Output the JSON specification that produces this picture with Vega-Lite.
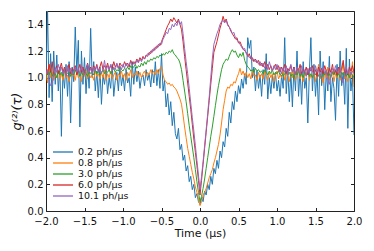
{
"$schema":"https://vega.github.io/schema/vega-lite/v6.json",
"width":308,"height":200,"autosize":"none",
"padding":{"left":46,"top":11,"right":20,"bottom":40},
"config":{"view":{"stroke":"#222","strokeWidth":1},"font":"DejaVu Sans",
 "axis":{"grid":false,"domain":false,"labelFlush":false,"tickColor":"#222","tickWidth":1,"tickSize":-3.5,"labelFont":"DejaVu Sans","labelFontSize":10,"labelColor":"#111","titleFont":"DejaVu Sans","titleFontSize":11,"titleFontWeight":"normal","titleColor":"#111"}},
"layer":[
{"data":{"values":[
{"t":-2.00,"a":0.98,"b":1.06,"c":1.00,"d":1.08,"e":1.03},
{"t":-1.98,"a":1.52,"b":0.96,"c":1.05,"d":1.02,"e":1.06},
{"t":-1.96,"a":0.85,"b":1.10,"c":1.02,"d":1.10,"e":0.98},
{"t":-1.94,"a":1.18,"b":1.00,"c":1.06,"d":1.04,"e":0.94},
{"t":-1.92,"a":0.82,"b":1.04,"c":1.01,"d":1.12,"e":0.96},
{"t":-1.90,"a":1.20,"b":0.98,"c":1.04,"d":1.01,"e":1.02},
{"t":-1.88,"a":0.95,"b":1.02,"c":1.03,"d":1.06,"e":1.07},
{"t":-1.86,"a":1.17,"b":1.00,"c":1.00,"d":1.09,"e":1.04},
{"t":-1.84,"a":0.90,"b":1.06,"c":1.05,"d":1.03,"e":1.10},
{"t":-1.82,"a":1.08,"b":0.99,"c":1.02,"d":1.07,"e":1.05},
{"t":-1.80,"a":0.56,"b":1.03,"c":1.04,"d":1.11,"e":1.08},
{"t":-1.78,"a":1.05,"b":0.98,"c":1.01,"d":1.04,"e":1.03},
{"t":-1.76,"a":0.92,"b":1.05,"c":1.06,"d":1.08,"e":1.06},
{"t":-1.74,"a":1.10,"b":1.00,"c":1.02,"d":1.02,"e":1.01},
{"t":-1.72,"a":0.86,"b":1.02,"c":1.03,"d":1.06,"e":1.09},
{"t":-1.70,"a":1.12,"b":0.97,"c":1.05,"d":1.10,"e":1.04},
{"t":-1.68,"a":0.66,"b":1.04,"c":1.01,"d":1.03,"e":1.07},
{"t":-1.66,"a":1.08,"b":1.01,"c":1.04,"d":1.07,"e":1.02},
{"t":-1.64,"a":0.97,"b":1.03,"c":1.02,"d":1.05,"e":1.05},
{"t":-1.62,"a":1.38,"b":0.98,"c":1.06,"d":1.09,"e":1.08},
{"t":-1.60,"a":1.04,"b":1.05,"c":1.03,"d":1.02,"e":1.04},
{"t":-1.58,"a":1.28,"b":1.00,"c":1.05,"d":1.06,"e":1.07},
{"t":-1.56,"a":0.63,"b":1.02,"c":1.01,"d":1.10,"e":1.03},
{"t":-1.54,"a":1.20,"b":0.97,"c":1.04,"d":1.04,"e":1.09},
{"t":-1.52,"a":0.95,"b":1.04,"c":1.02,"d":1.08,"e":1.05},
{"t":-1.50,"a":1.15,"b":1.01,"c":1.06,"d":1.03,"e":1.02},
{"t":-1.48,"a":0.88,"b":1.06,"c":1.03,"d":1.07,"e":1.06},
{"t":-1.46,"a":1.10,"b":0.99,"c":1.01,"d":1.11,"e":1.10},
{"t":-1.44,"a":0.92,"b":1.03,"c":1.05,"d":1.05,"e":1.04},
{"t":-1.42,"a":1.37,"b":1.00,"c":1.03,"d":1.08,"e":1.07},
{"t":-1.40,"a":1.00,"b":1.02,"c":1.04,"d":1.04,"e":1.03},
{"t":-1.38,"a":1.12,"b":0.98,"c":1.02,"d":1.09,"e":1.08},
{"t":-1.36,"a":0.90,"b":1.05,"c":1.06,"d":1.06,"e":1.05},
{"t":-1.34,"a":1.05,"b":1.01,"c":1.03,"d":1.10,"e":1.09},
{"t":-1.32,"a":0.85,"b":1.03,"c":1.05,"d":1.05,"e":1.04},
{"t":-1.30,"a":1.08,"b":0.99,"c":1.02,"d":1.08,"e":1.07},
{"t":-1.28,"a":0.80,"b":1.04,"c":1.04,"d":1.12,"e":1.03},
{"t":-1.26,"a":1.02,"b":1.00,"c":1.06,"d":1.06,"e":1.06},
{"t":-1.24,"a":0.95,"b":1.06,"c":1.03,"d":1.09,"e":1.13},
{"t":-1.22,"a":1.06,"b":0.98,"c":1.05,"d":1.07,"e":1.05},
{"t":-1.20,"a":0.88,"b":1.03,"c":1.04,"d":1.11,"e":1.09},
{"t":-1.18,"a":1.00,"b":1.00,"c":1.06,"d":1.06,"e":1.06},
{"t":-1.16,"a":0.92,"b":1.05,"c":1.03,"d":1.09,"e":1.10},
{"t":-1.14,"a":1.10,"b":0.99,"c":1.05,"d":1.07,"e":1.05},
{"t":-1.12,"a":0.86,"b":1.02,"c":1.07,"d":1.12,"e":1.08},
{"t":-1.10,"a":0.98,"b":1.04,"c":1.04,"d":1.08,"e":1.06},
{"t":-1.08,"a":1.04,"b":0.98,"c":1.06,"d":1.10,"e":1.11},
{"t":-1.06,"a":0.90,"b":1.03,"c":1.05,"d":1.07,"e":1.07},
{"t":-1.04,"a":1.08,"b":1.01,"c":1.08,"d":1.11,"e":1.09},
{"t":-1.02,"a":0.94,"b":1.05,"c":1.06,"d":1.09,"e":1.06},
{"t":-1.00,"a":1.02,"b":1.00,"c":1.05,"d":1.08,"e":1.10},
{"t":-0.98,"a":0.90,"b":1.03,"c":1.07,"d":1.12,"e":1.07},
{"t":-0.96,"a":1.06,"b":0.98,"c":1.06,"d":1.09,"e":1.11},
{"t":-0.94,"a":0.96,"b":1.04,"c":1.08,"d":1.11,"e":1.08},
{"t":-0.92,"a":1.00,"b":1.01,"c":1.06,"d":1.08,"e":1.10},
{"t":-0.90,"a":0.86,"b":1.06,"c":1.09,"d":1.13,"e":1.12},
{"t":-0.88,"a":1.12,"b":1.00,"c":1.07,"d":1.10,"e":1.09},
{"t":-0.86,"a":0.95,"b":1.03,"c":1.08,"d":1.12,"e":1.11},
{"t":-0.84,"a":1.08,"b":1.02,"c":1.10,"d":1.11,"e":1.10},
{"t":-0.82,"a":0.97,"b":1.05,"c":1.07,"d":1.14,"e":1.13},
{"t":-0.80,"a":1.05,"b":1.01,"c":1.09,"d":1.12,"e":1.11},
{"t":-0.78,"a":0.92,"b":1.04,"c":1.08,"d":1.15,"e":1.14},
{"t":-0.76,"a":1.00,"b":1.00,"c":1.11,"d":1.13,"e":1.12},
{"t":-0.74,"a":1.02,"b":1.03,"c":1.09,"d":1.16,"e":1.15},
{"t":-0.72,"a":0.94,"b":1.05,"c":1.12,"d":1.14,"e":1.14},
{"t":-0.70,"a":1.06,"b":1.01,"c":1.10,"d":1.17,"e":1.16},
{"t":-0.68,"a":0.98,"b":1.04,"c":1.13,"d":1.16,"e":1.18},
{"t":-0.66,"a":1.03,"b":1.02,"c":1.12,"d":1.19,"e":1.17},
{"t":-0.64,"a":0.93,"b":1.06,"c":1.14,"d":1.18,"e":1.20},
{"t":-0.62,"a":1.06,"b":1.03,"c":1.13,"d":1.21,"e":1.19},
{"t":-0.60,"a":0.96,"b":1.05,"c":1.15,"d":1.20,"e":1.22},
{"t":-0.58,"a":1.12,"b":1.02,"c":1.14,"d":1.23,"e":1.21},
{"t":-0.56,"a":0.94,"b":1.06,"c":1.16,"d":1.22,"e":1.24},
{"t":-0.54,"a":1.06,"b":1.03,"c":1.15,"d":1.25,"e":1.23},
{"t":-0.52,"a":0.92,"b":1.07,"c":1.17,"d":1.24,"e":1.26},
{"t":-0.50,"a":1.18,"b":1.08,"c":1.16,"d":1.27,"e":1.25},
{"t":-0.48,"a":0.90,"b":1.02,"c":1.18,"d":1.30,"e":1.29},
{"t":-0.46,"a":0.98,"b":0.98,"c":1.17,"d":1.33,"e":1.31},
{"t":-0.44,"a":0.78,"b":0.97,"c":1.19,"d":1.36,"e":1.34},
{"t":-0.42,"a":0.88,"b":0.95,"c":1.18,"d":1.39,"e":1.33},
{"t":-0.40,"a":0.72,"b":0.96,"c":1.20,"d":1.41,"e":1.37},
{"t":-0.38,"a":0.82,"b":0.94,"c":1.19,"d":1.44,"e":1.36},
{"t":-0.36,"a":0.64,"b":0.95,"c":1.21,"d":1.42,"e":1.40},
{"t":-0.34,"a":0.74,"b":0.93,"c":1.18,"d":1.45,"e":1.38},
{"t":-0.32,"a":0.58,"b":0.92,"c":1.17,"d":1.43,"e":1.41},
{"t":-0.30,"a":0.54,"b":0.90,"c":1.15,"d":1.41,"e":1.39},
{"t":-0.28,"a":0.62,"b":0.87,"c":1.14,"d":1.44,"e":1.43},
{"t":-0.26,"a":0.46,"b":0.84,"c":1.11,"d":1.40,"e":1.40},
{"t":-0.24,"a":0.50,"b":0.80,"c":1.06,"d":1.36,"e":1.42},
{"t":-0.22,"a":0.38,"b":0.72,"c":0.98,"d":1.27,"e":1.33},
{"t":-0.20,"a":0.42,"b":0.63,"c":0.90,"d":1.16,"e":1.22},
{"t":-0.18,"a":0.30,"b":0.55,"c":0.82,"d":1.06,"e":1.12},
{"t":-0.16,"a":0.34,"b":0.47,"c":0.73,"d":0.96,"e":1.03},
{"t":-0.14,"a":0.22,"b":0.41,"c":0.64,"d":0.86,"e":0.92},
{"t":-0.12,"a":0.26,"b":0.35,"c":0.56,"d":0.76,"e":0.81},
{"t":-0.10,"a":0.16,"b":0.29,"c":0.48,"d":0.65,"e":0.70},
{"t":-0.08,"a":0.20,"b":0.24,"c":0.40,"d":0.54,"e":0.60},
{"t":-0.06,"a":0.10,"b":0.18,"c":0.31,"d":0.44,"e":0.49},
{"t":-0.04,"a":0.13,"b":0.14,"c":0.22,"d":0.34,"e":0.38},
{"t":-0.02,"a":0.07,"b":0.09,"c":0.14,"d":0.23,"e":0.27},
{"t":0.00,"a":0.05,"b":0.04,"c":0.07,"d":0.12,"e":0.16},
{"t":0.02,"a":0.10,"b":0.07,"c":0.11,"d":0.23,"e":0.26},
{"t":0.04,"a":0.07,"b":0.12,"c":0.17,"d":0.35,"e":0.37},
{"t":0.06,"a":0.15,"b":0.14,"c":0.24,"d":0.47,"e":0.49},
{"t":0.08,"a":0.12,"b":0.17,"c":0.32,"d":0.59,"e":0.61},
{"t":0.10,"a":0.20,"b":0.21,"c":0.40,"d":0.71,"e":0.73},
{"t":0.12,"a":0.16,"b":0.25,"c":0.48,"d":0.83,"e":0.86},
{"t":0.14,"a":0.26,"b":0.28,"c":0.56,"d":0.95,"e":1.00},
{"t":0.16,"a":0.20,"b":0.31,"c":0.63,"d":1.07,"e":1.14},
{"t":0.18,"a":0.32,"b":0.36,"c":0.71,"d":1.19,"e":1.25},
{"t":0.20,"a":0.28,"b":0.40,"c":0.79,"d":1.23,"e":1.29},
{"t":0.22,"a":0.38,"b":0.45,"c":0.87,"d":1.27,"e":1.33},
{"t":0.24,"a":0.32,"b":0.50,"c":0.94,"d":1.32,"e":1.36},
{"t":0.26,"a":0.45,"b":0.57,"c":1.00,"d":1.37,"e":1.40},
{"t":0.28,"a":0.40,"b":0.66,"c":1.06,"d":1.41,"e":1.42},
{"t":0.30,"a":0.52,"b":0.76,"c":1.10,"d":1.46,"e":1.43},
{"t":0.32,"a":0.48,"b":0.83,"c":1.12,"d":1.42,"e":1.41},
{"t":0.34,"a":0.62,"b":0.90,"c":1.14,"d":1.44,"e":1.43},
{"t":0.36,"a":0.56,"b":0.93,"c":1.13,"d":1.40,"e":1.39},
{"t":0.38,"a":0.74,"b":0.92,"c":1.16,"d":1.38,"e":1.38},
{"t":0.40,"a":0.66,"b":0.95,"c":1.19,"d":1.35,"e":1.36},
{"t":0.42,"a":0.82,"b":0.94,"c":1.21,"d":1.33,"e":1.33},
{"t":0.44,"a":0.76,"b":0.97,"c":1.19,"d":1.31,"e":1.34},
{"t":0.46,"a":0.90,"b":0.96,"c":1.20,"d":1.29,"e":1.30},
{"t":0.48,"a":0.82,"b":1.00,"c":1.17,"d":1.30,"e":1.28},
{"t":0.50,"a":0.94,"b":1.03,"c":1.15,"d":1.26,"e":1.27},
{"t":0.52,"a":0.88,"b":1.07,"c":1.18,"d":1.27,"e":1.25},
{"t":0.54,"a":0.99,"b":1.02,"c":1.16,"d":1.24,"e":1.23},
{"t":0.56,"a":0.92,"b":1.05,"c":1.19,"d":1.22,"e":1.21},
{"t":0.58,"a":1.03,"b":1.01,"c":1.13,"d":1.20,"e":1.22},
{"t":0.60,"a":0.95,"b":1.04,"c":1.10,"d":1.19,"e":1.18},
{"t":0.62,"a":1.30,"b":1.00,"c":1.08,"d":1.16,"e":1.17},
{"t":0.64,"a":1.22,"b":1.03,"c":1.07,"d":1.18,"e":1.15},
{"t":0.66,"a":1.28,"b":0.99,"c":1.05,"d":1.14,"e":1.16},
{"t":0.68,"a":1.00,"b":1.05,"c":1.06,"d":1.15,"e":1.13},
{"t":0.70,"a":1.08,"b":1.01,"c":1.04,"d":1.12,"e":1.14},
{"t":0.72,"a":0.90,"b":1.02,"c":1.07,"d":1.14,"e":1.12},
{"t":0.74,"a":1.05,"b":0.98,"c":1.05,"d":1.11,"e":1.13},
{"t":0.76,"a":0.92,"b":1.04,"c":1.06,"d":1.13,"e":1.10},
{"t":0.78,"a":1.02,"b":1.00,"c":1.04,"d":1.09,"e":1.12},
{"t":0.80,"a":0.86,"b":1.03,"c":1.05,"d":1.11,"e":1.09},
{"t":0.82,"a":1.06,"b":0.99,"c":1.03,"d":1.08,"e":1.11},
{"t":0.84,"a":0.95,"b":1.05,"c":1.06,"d":1.12,"e":1.07},
{"t":0.86,"a":1.18,"b":1.01,"c":1.04,"d":1.07,"e":1.10},
{"t":0.88,"a":0.84,"b":0.98,"c":1.02,"d":1.10,"e":1.06},
{"t":0.90,"a":1.00,"b":1.04,"c":1.05,"d":1.06,"e":1.12},
{"t":0.92,"a":0.88,"b":1.00,"c":1.03,"d":1.09,"e":1.08},
{"t":0.94,"a":1.02,"b":1.03,"c":1.06,"d":1.05,"e":1.05},
{"t":0.96,"a":0.92,"b":0.97,"c":1.02,"d":1.08,"e":1.09},
{"t":0.98,"a":1.04,"b":1.02,"c":1.04,"d":1.10,"e":1.06},
{"t":1.00,"a":0.90,"b":1.05,"c":1.03,"d":1.06,"e":1.10},
{"t":1.02,"a":0.98,"b":0.99,"c":1.05,"d":1.09,"e":1.05},
{"t":1.04,"a":0.86,"b":1.02,"c":1.02,"d":1.04,"e":1.08},
{"t":1.06,"a":1.02,"b":1.00,"c":1.04,"d":1.08,"e":1.03},
{"t":1.08,"a":0.92,"b":1.06,"c":1.01,"d":1.05,"e":1.07},
{"t":1.10,"a":1.30,"b":0.98,"c":1.03,"d":1.10,"e":1.04},
{"t":1.12,"a":0.88,"b":1.03,"c":1.05,"d":1.03,"e":1.09},
{"t":1.14,"a":1.06,"b":1.01,"c":1.02,"d":1.07,"e":1.02},
{"t":1.16,"a":0.82,"b":0.97,"c":1.04,"d":1.05,"e":1.06},
{"t":1.18,"a":1.04,"b":1.04,"c":1.01,"d":1.09,"e":1.10},
{"t":1.20,"a":0.78,"b":1.00,"c":1.03,"d":1.04,"e":1.04},
{"t":1.22,"a":1.08,"b":1.05,"c":1.00,"d":1.08,"e":1.07},
{"t":1.24,"a":0.90,"b":0.98,"c":1.04,"d":1.02,"e":1.02},
{"t":1.26,"a":1.20,"b":1.02,"c":1.02,"d":1.07,"e":1.08},
{"t":1.28,"a":0.86,"b":1.07,"c":1.05,"d":1.05,"e":1.05},
{"t":1.30,"a":1.06,"b":0.99,"c":1.01,"d":1.10,"e":1.03},
{"t":1.32,"a":0.80,"b":1.03,"c":1.03,"d":1.03,"e":1.09},
{"t":1.34,"a":1.12,"b":0.97,"c":1.00,"d":1.06,"e":1.04},
{"t":1.36,"a":0.92,"b":1.04,"c":1.04,"d":1.04,"e":1.06},
{"t":1.38,"a":1.00,"b":1.01,"c":1.02,"d":1.08,"e":1.01},
{"t":1.40,"a":0.66,"b":1.06,"c":1.05,"d":1.02,"e":1.07},
{"t":1.42,"a":1.04,"b":0.98,"c":1.01,"d":1.07,"e":1.03},
{"t":1.44,"a":1.30,"b":1.02,"c":1.03,"d":1.05,"e":1.08},
{"t":1.46,"a":0.90,"b":1.00,"c":1.00,"d":1.09,"e":1.05},
{"t":1.48,"a":1.10,"b":1.05,"c":1.04,"d":1.03,"e":1.02},
{"t":1.50,"a":0.86,"b":0.97,"c":1.02,"d":1.06,"e":1.09},
{"t":1.52,"a":1.05,"b":1.03,"c":1.05,"d":1.01,"e":1.04},
{"t":1.54,"a":0.72,"b":1.10,"c":1.01,"d":1.08,"e":1.06},
{"t":1.56,"a":1.20,"b":0.99,"c":1.03,"d":1.04,"e":1.00},
{"t":1.58,"a":0.94,"b":1.02,"c":1.00,"d":1.07,"e":1.05},
{"t":1.60,"a":1.12,"b":0.96,"c":1.04,"d":1.03,"e":1.08},
{"t":1.62,"a":0.76,"b":1.04,"c":1.02,"d":1.09,"e":1.03},
{"t":1.64,"a":1.05,"b":1.00,"c":1.05,"d":1.05,"e":1.06},
{"t":1.66,"a":0.90,"b":1.08,"c":1.01,"d":1.02,"e":0.98},
{"t":1.68,"a":1.16,"b":0.98,"c":1.03,"d":1.07,"e":0.95},
{"t":1.70,"a":0.82,"b":1.02,"c":1.00,"d":1.04,"e":1.02},
{"t":1.72,"a":1.00,"b":1.05,"c":1.04,"d":1.10,"e":1.07},
{"t":1.74,"a":0.92,"b":0.97,"c":1.02,"d":1.03,"e":1.04},
{"t":1.76,"a":0.68,"b":1.03,"c":1.05,"d":1.06,"e":1.09},
{"t":1.78,"a":1.10,"b":1.00,"c":1.01,"d":1.02,"e":1.05},
{"t":1.80,"a":0.86,"b":1.06,"c":1.03,"d":1.08,"e":1.03},
{"t":1.82,"a":1.20,"b":0.98,"c":1.00,"d":1.04,"e":1.07},
{"t":1.84,"a":0.94,"b":1.04,"c":1.04,"d":1.07,"e":0.99},
{"t":1.86,"a":1.04,"b":1.11,"c":1.02,"d":1.13,"e":0.96},
{"t":1.88,"a":0.80,"b":0.99,"c":1.05,"d":1.03,"e":1.04},
{"t":1.90,"a":1.22,"b":1.02,"c":1.01,"d":1.06,"e":1.08},
{"t":1.92,"a":0.62,"b":0.97,"c":1.03,"d":1.02,"e":1.03},
{"t":1.94,"a":1.14,"b":1.05,"c":1.00,"d":1.08,"e":1.06},
{"t":1.96,"a":0.90,"b":1.00,"c":1.04,"d":1.05,"e":1.02},
{"t":1.98,"a":1.02,"b":1.12,"c":1.02,"d":1.09,"e":1.05},
{"t":2.00,"a":0.57,"b":0.93,"c":1.00,"d":1.04,"e":1.03}
]},
"transform":[{"fold":["a","b","c","d","e"],"as":["s","g"]}],
"mark":{"type":"line","strokeWidth":1,"clip":true},
"encoding":{
 "x":{"field":"t","type":"quantitative","scale":{"domain":[-2,2],"nice":false,"zero":false},
  "axis":{"orient":"bottom","values":[-2,-1.5,-1,-0.5,0,0.5,1,1.5,2],"format":".1f","labelExpr":"replace(datum.label,'-','\u2212')","labelPadding":8.5,"title":"Time (μs)","titlePadding":1.5}},
 "y":{"field":"g","type":"quantitative","scale":{"domain":[0,1.5],"nice":false,"zero":false},
  "axis":{"orient":"left","values":[0,0.2,0.4,0.6,0.8,1.0,1.2,1.4],"format":".1f","labelPadding":6.5,"title":"g⁽²⁾(τ)","titleFontStyle":"italic","titleFontSize":13,"titlePadding":4}},
 "color":{"field":"s","type":"nominal","scale":{"domain":["a","b","c","d","e"],"range":["#1f77b4","#ff7f0e","#2ca02c","#d62728","#9467bd"]},
  "legend":{"orient":"none","legendX":6,"legendY":135,"title":null,"padding":0,"symbolType":"M-1,0L3,0","symbolSize":100,"symbolStrokeWidth":1.3,"labelFontSize":9.5,"labelOffset":14,"rowPadding":0,"labelColor":"#111","labelFont":"DejaVu Sans",
   "labelExpr":"datum.label=='a'?'0.2 ph/μs':datum.label=='b'?'0.8 ph/μs':datum.label=='c'?'3.0 ph/μs':datum.label=='d'?'6.0 ph/μs':'10.1 ph/μs'"}}
}},
{"data":{"values":[{"t":0,"g":1}]},
"mark":{"type":"point","opacity":0},
"encoding":{
 "x":{"field":"t","type":"quantitative","scale":{"domain":[-2,2],"nice":false,"zero":false},"axis":{"orient":"top","values":[-2,-1.5,-1,-0.5,0,0.5,1,1.5,2],"labels":false,"title":null}},
 "y":{"field":"g","type":"quantitative","scale":{"domain":[0,1.5],"nice":false,"zero":false},"axis":{"orient":"right","values":[0,0.2,0.4,0.6,0.8,1.0,1.2,1.4],"labels":false,"title":null}}
}}
],
"resolve":{"axis":{"x":"independent","y":"independent"}}
}
